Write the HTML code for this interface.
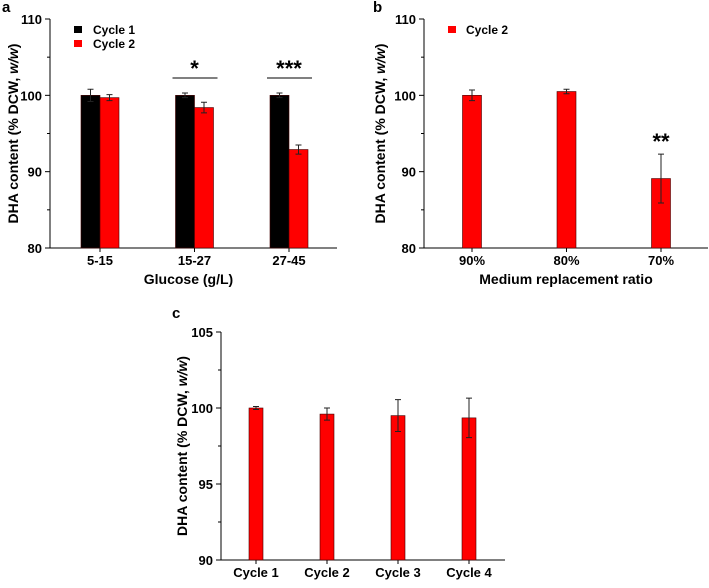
<!DOCTYPE html>
<html><head><meta charset="utf-8"><style>
body{margin:0;background:#fff;}
svg text{font-family:"Liberation Sans",Arial,sans-serif;font-weight:bold;fill:#000;}
</style></head><body>
<svg id="fig" width="709" height="583" xmlns="http://www.w3.org/2000/svg"></svg>
<script>
// Panel a data
const aCategories = ["5-15","15-27","27-45"];
const aCycle1 = [100, 100, 100];
const aCycle1Err = [0.8, 0.3, 0.3];
const aCycle2 = [99.7, 98.4, 92.9];
const aCycle2Err = [0.4, 0.7, 0.6];
const aTicks = [80, 90, 100, 110];
// Panel b data
const bCategories = ["90%","80%","70%"];
const bCycle2 = [100, 100.5, 89.1];
const bCycle2Err = [0.7, 0.3, 3.2];
const bTicks = [80, 90, 100, 110];
// Panel c data
const cCategories = ["Cycle 1","Cycle 2","Cycle 3","Cycle 4"];
const cValues = [100, 99.6, 99.5, 99.35];
const cErr = [0.1, 0.4, 1.05, 1.3];
const cTicks = [90, 95, 100, 105];

const svg = document.getElementById('fig');
const NS = "http://www.w3.org/2000/svg";
function el(tag, attrs, text){
  const e = document.createElementNS(NS, tag);
  for (const k in attrs) e.setAttribute(k, attrs[k]);
  if (text !== undefined) e.textContent = text;
  svg.appendChild(e);
  return e;
}

function panel(p){
  const ys = v => p.y1 - (v - p.ymin) / (p.ymax - p.ymin) * (p.y1 - p.y0);
  const xs = i => p.x0 + p.firstC + i * p.step;
  const axis = el('path', {d:`M${p.x0} ${p.y0}V${p.y1}H${p.x1}`, stroke:'#000', 'stroke-width':1, fill:'none'});
  
  
  p.ticks.forEach((t, k) => {
    const tk = el('line', {x1:p.x0-5, x2:p.x0, y1:ys(t), y2:ys(t), stroke:'#000'});
    
    
    const lb = el('text', {x:p.x0-8, y:ys(t)+5, 'text-anchor':'end', 'font-size':13}, t);
    
    
    if (k < p.ticks.length - 1) {
      const m = (t + p.ticks[k+1]) / 2;
      const mt = el('line', {x1:p.x0-3, x2:p.x0, y1:ys(m), y2:ys(m), stroke:'#000'});
      
      
    }
  });
  p.cats.forEach((c, i) => {
    const tk = el('line', {x1:xs(i), x2:xs(i), y1:p.y1, y2:p.y1+4, stroke:'#000'});
    
    
    const lb = el('text', {x:xs(i), y:p.y1+17, 'text-anchor':'middle', 'font-size':13}, c);
    
    
  });
  p.series.forEach((s, si) => {
    s.vals.forEach((v, i) => {
      const cx = xs(i) + s.off;
      const b = el('rect', {x:cx - p.bw/2, y:ys(v), width:p.bw, height:p.y1 - ys(v), fill:s.color, stroke:'#400', 'stroke-width':0.6});
      
      
      const e = s.err[i];
      const eb = el('path', {d:`M${cx} ${ys(v+e)}V${ys(v-e)}M${cx-3} ${ys(v+e)}H${cx+3}M${cx-3} ${ys(v-e)}H${cx+3}`, stroke:'#222', 'stroke-width':1, fill:'none'});
      
      
    });
  });
  const yl = el('text', {transform:`translate(${p.ylx},${(p.y0+p.y1)/2}) rotate(-90)`, 'text-anchor':'middle', 'font-size':14});
  yl.innerHTML = 'DHA content (% DCW, <tspan font-style="italic">w/w</tspan>)';
  
  
  if (p.xlabel) {
    const xl = el('text', {x:(p.x0+p.x1)/2 + (p.xlOff||0), y:p.y1+36, 'text-anchor':'middle', 'font-size':14}, p.xlabel);
    
    
  }
  const pl = el('text', {x:p.lx, y:p.ly, 'font-size':15}, p.letter);
  
  
  return {xs, ys};
}

const A = panel({id:'panel-a', letter:'a', lx:2, ly:12, x0:50, x1:337, y0:19, y1:248, ymin:80, ymax:110,
  ticks:aTicks, cats:aCategories, firstC:50, step:94.5, bw:19, ylx:18, xlabel:'Glucose (g/L)', xlOff:-5,
  series:[{name:'cycle1', vals:aCycle1, err:aCycle1Err, color:'#000', off:-9.5},
          {name:'cycle2', vals:aCycle2, err:aCycle2Err, color:'#f00', off:9.5}]});
const B = panel({id:'panel-b', letter:'b', lx:373, ly:12, x0:424, x1:708, y0:19, y1:248, ymin:80, ymax:110,
  ticks:bTicks, cats:bCategories, firstC:48, step:94.5, bw:19, ylx:385, xlabel:'Medium replacement ratio', xlOff:-0,
  series:[{name:'cycle2', vals:bCycle2, err:bCycle2Err, color:'#f00', off:0}]});
const C = panel({id:'panel-c', letter:'c', lx:172, ly:318, x0:221, x1:505, y0:332, y1:560, ymin:90, ymax:105,
  ticks:cTicks, cats:cCategories, firstC:35, step:71, bw:14, ylx:187,
  series:[{name:'cycles', vals:cValues, err:cErr, color:'#f00', off:0}]});

// Legends
[[74,'#000','Cycle 1',30],[74,'#f00','Cycle 2',44]].forEach(l => {
  const r = el('rect', {x:l[0], y:l[3]-4, width:8, height:7, fill:l[1]});
  
  
  const t = el('text', {x:93, y:l[3]+4, 'font-size':12}, l[2]);
  
  
});
const br = el('rect', {x:448, y:26, width:8, height:7, fill:'#f00'});


const bt = el('text', {x:466, y:34, 'font-size':12}, 'Cycle 2');



// Significance markers
[[1,'*'],[2,'***']].forEach(s => {
  const cx = A.xs(s[0]);
  const ln = el('line', {x1:cx-22, x2:cx+23, y1:78, y2:78, stroke:'#000'});
  
  
  const t = el('text', {x:cx, y:76, 'text-anchor':'middle', 'font-size':22}, s[1]);
  
  
});
const bs = el('text', {x:B.xs(2), y:149, 'text-anchor':'middle', 'font-size':22}, '**');


</script>
</body></html>
